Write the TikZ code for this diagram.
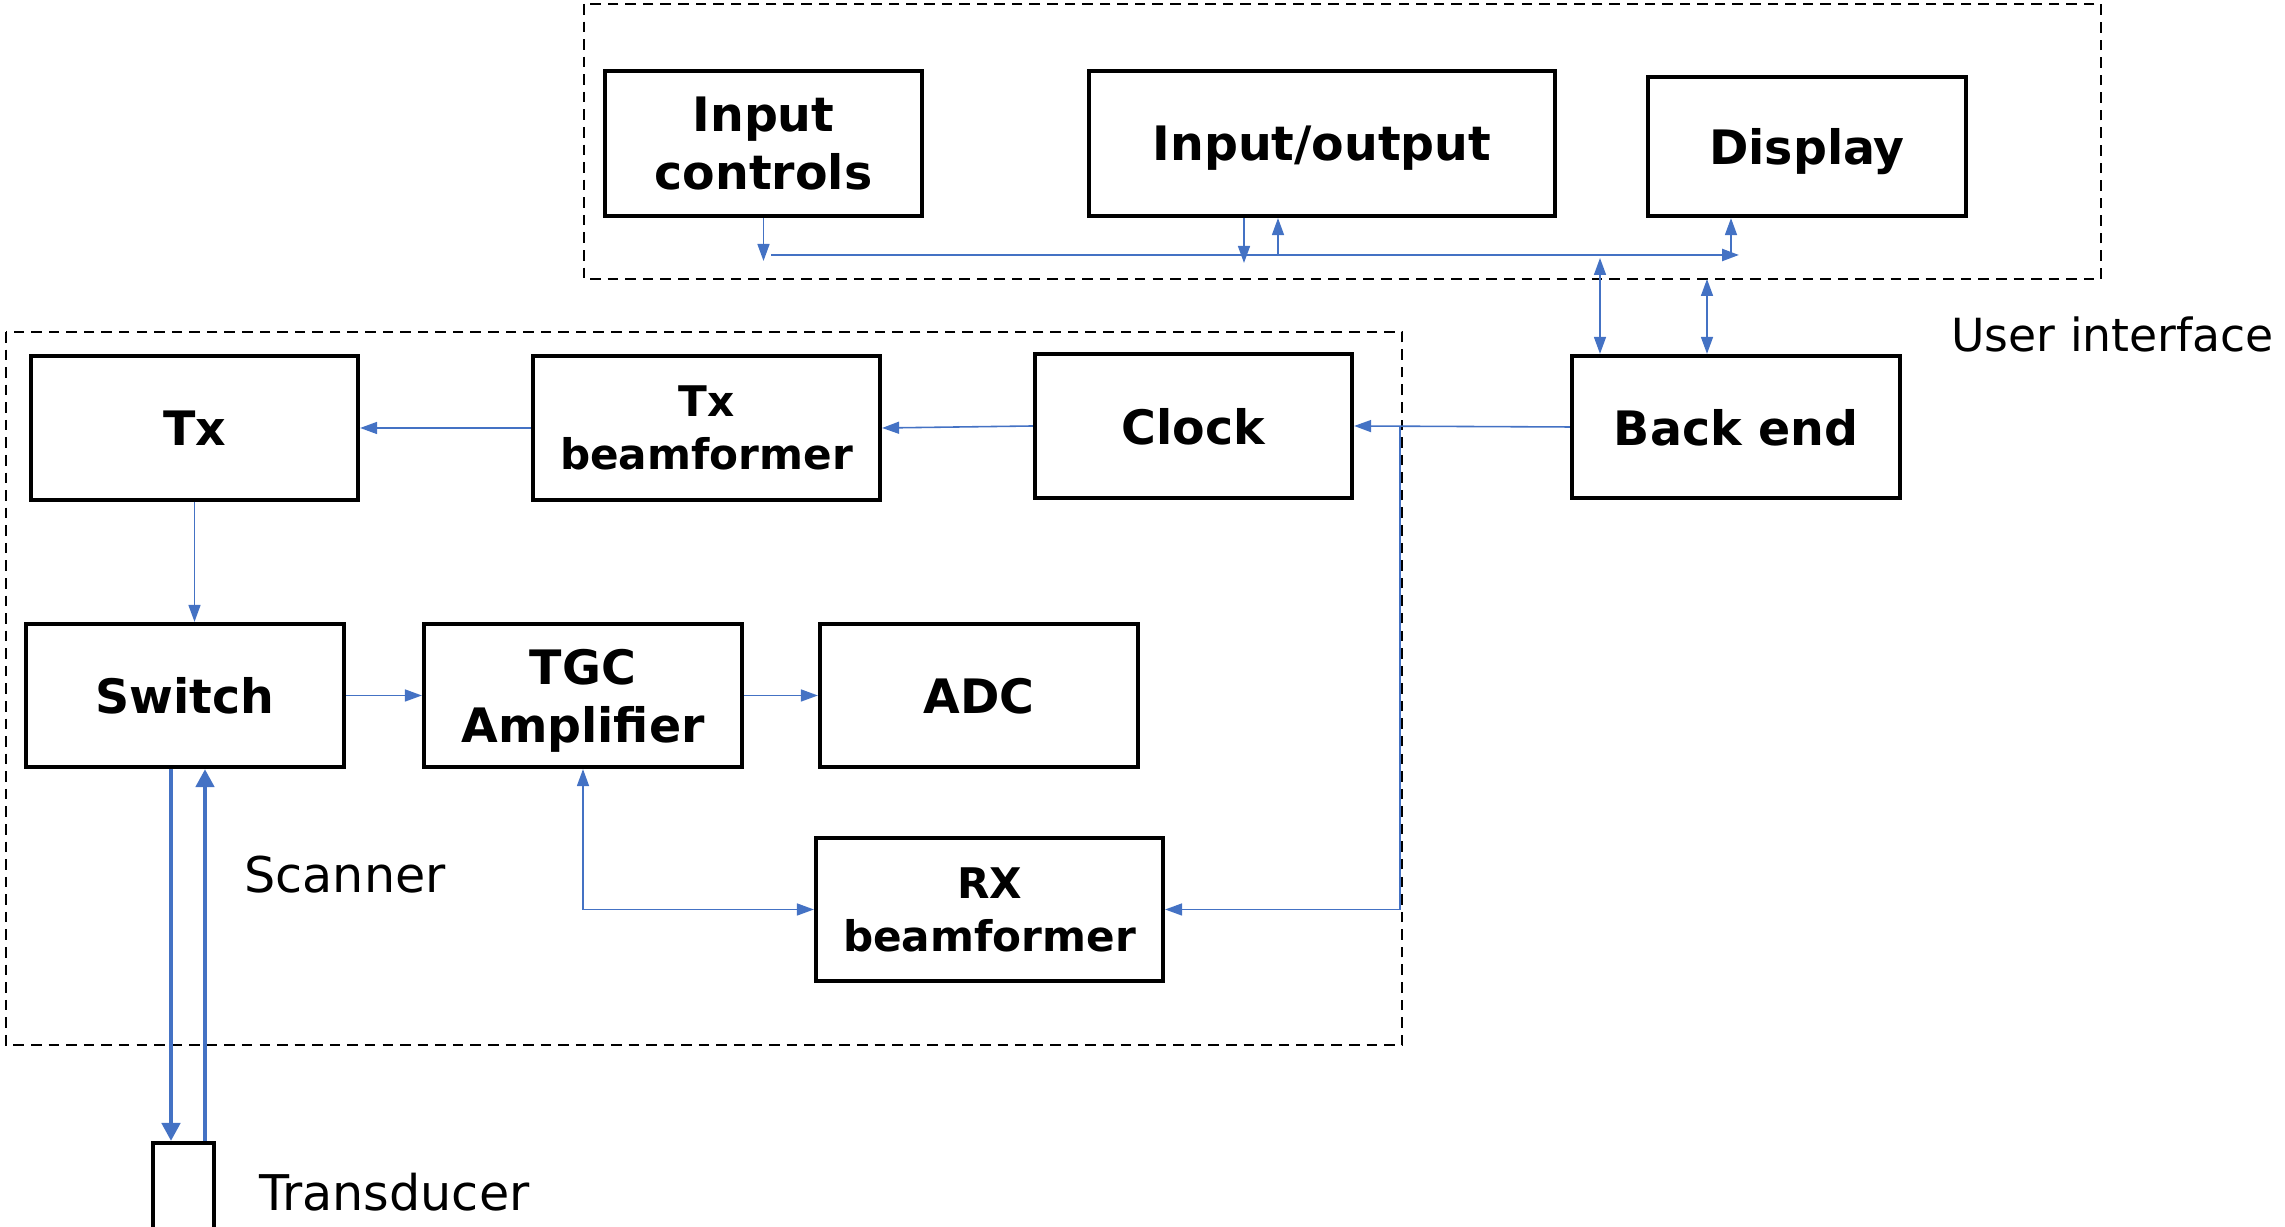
\documentclass[tikz,border=0pt]{standalone}
\usepackage{fontspec}
\setmainfont{DejaVu Sans}
\usepackage{tikz}
\usetikzlibrary{arrows.meta}
\definecolor{bleu}{RGB}{68,114,196}
\tikzstyle{bloc} = [rectangle, draw=black, line width=1.2pt, align=center, text depth=0pt, font=\bfseries\fontsize{13.5}{16.5}\selectfont]
\tikzstyle{petit} = [font=\bfseries\fontsize{12}{15}\selectfont]
\tikzstyle{lien} = [draw=bleu, line width=0.45pt, >={Triangle[length=0.17cm,width=0.12cm]}]
\tikzstyle{epais} = [draw=bleu, line width=1.3pt, >={Triangle[length=0.18cm,width=0.18cm]}]
\tikzstyle{cadre} = [draw=black, line width=0.5pt, dash pattern=on 3pt off 2pt]
\tikzstyle{etiquette} = [anchor=west, font=\fontsize{14}{17}\selectfont]

\begin{document}
\begin{tikzpicture}
        \useasboundingbox (0,0) rectangle (22.85,12.27);

        \draw[cadre] (5.84,12.23) rectangle (21.01,9.48);
        \draw[cadre] (0.06,8.95) rectangle (14.02,1.82);
        \coordinate (ui-sw) at (5.84,9.48);

        \node (inctrl) [bloc, minimum width=3.17cm, minimum height=1.45cm] at (7.635,10.835) {Input\\controls};
        \node (io) [bloc, minimum width=4.66cm, minimum height=1.45cm] at (13.22,10.835) {Input/output};
        \node (disp) [bloc, minimum width=3.18cm, minimum height=1.39cm] at (18.07,10.805) {Display};
        \node (backend) [bloc, minimum width=3.28cm, minimum height=1.42cm] at (17.36,8.00) {Back end};

        \node (tx) [bloc, minimum width=3.27cm, minimum height=1.44cm] at (1.945,7.99) {Tx};
        \node (txbf) [bloc, petit, minimum width=3.47cm, minimum height=1.44cm] at (7.065,7.99) {Tx\\beamformer};
        \node (clock) [bloc, minimum width=3.17cm, minimum height=1.44cm] at (11.935,8.01) {Clock};
        \node (switch) [bloc, minimum width=3.18cm, minimum height=1.43cm] at (1.85,5.315) {Switch};
        \node (tgc) [bloc, minimum width=3.18cm, minimum height=1.43cm] at (5.83,5.315) {TGC\\Amplifier};
        \node (adc) [bloc, minimum width=3.18cm, minimum height=1.43cm] at (9.79,5.315) {ADC};
        \node (rx) [bloc, petit, minimum width=3.47cm, minimum height=1.43cm] at (9.895,3.175) {RX\\beamformer};
        \node (trans) [rectangle, draw=black, line width=1.2pt, minimum width=0.61cm, minimum height=1.2cm, anchor=north] at (1.835,0.86) {};

        \node (ui) [etiquette, font=\fontsize{13}{16}\selectfont] at (19.39,8.93) {User interface};
        \node (scanner) [etiquette] at (2.32,3.52) {Scanner};
        \node (transd) [etiquette] at (2.47,0.35) {Transducer};

        \coordinate (bus-l) at (7.71,9.72);
        \coordinate (bus-m) at (12.53,9.72);
        \coordinate (bus-r) at (17.39,9.72);
        \coordinate (split) at (14.00,8.00);

        \draw[lien,->] (inctrl.south) -- ([yshift=-0.06cm]inctrl.south |- bus-l);
        \draw[lien] (bus-l) -- (bus-m);
        \draw[lien, line width=0.7pt, ->] (bus-m) -- (bus-r);
        \draw[lien,->] ([xshift=-0.78cm]io.south) -- ([xshift=-0.78cm,yshift=-0.08cm]io.south |- bus-m);
        \draw[lien,->] ([xshift=-0.44cm]io.south |- bus-m) -- ([xshift=-0.44cm]io.south);
        \draw[lien,->] ([xshift=-0.76cm]disp.south |- bus-r) -- ([xshift=-0.76cm]disp.south);
        \draw[lien,<->] ([xshift=-1.36cm]backend.north) -- ([xshift=-1.36cm,yshift=-0.03cm]backend.north |- bus-r);
        \draw[lien,<->] ([xshift=-0.29cm]backend.north) -- ([xshift=-0.29cm]backend.north |- ui-sw);

        \draw[lien,->] (backend.west) -- (clock.east);
        \draw[lien,->] (split) |- (rx.east);
        \draw[lien,->] (clock.west) -- (txbf.east);
        \draw[lien,->] (txbf.west) -- (tx.east);
        \draw[lien,->] (tx.south) -- (tx.south |- switch.north);
        \draw[lien,->] (switch.east) -- (tgc.west);
        \draw[lien,->] (tgc.east) -- (adc.west);
        \draw[lien,<->] (tgc.south) |- (rx.west);

        \draw[epais,->] ([xshift=-0.14cm]switch.south) -- ([xshift=-0.14cm]switch.south |- trans.north);
        \draw[epais,->] ([xshift=0.2cm]switch.south |- trans.north) -- ([xshift=0.2cm]switch.south);

    \end{tikzpicture}
\end{document}
